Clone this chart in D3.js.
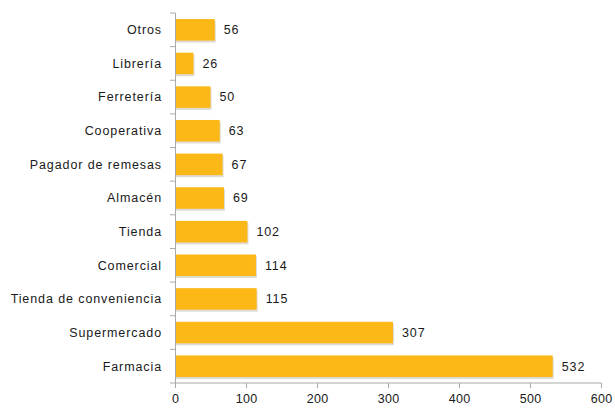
<!DOCTYPE html>
<html>
<head>
<meta charset="utf-8">
<script src="https://cdn.jsdelivr.net/npm/d3@7"></script>
<style>
  html, body { margin: 0; padding: 0; background: #fff; }
  svg { display: block; }
  text { font-family: "Liberation Sans", Arial, sans-serif; fill: #1a1a1a; }
  .lbl { letter-spacing: 0.9px; }
</style>
</head>
<body>
<svg id="chart" width="615" height="409"></svg>
<script>
// Points of sale, count per type
const categories = ["Otros", "Librería", "Ferretería", "Cooperativa", "Pagador de remesas",
  "Almacén", "Tienda", "Comercial", "Tienda de conveniencia", "Supermercado", "Farmacia"];
const values = [56, 26, 50, 63, 67, 69, 102, 114, 115, 307, 532];
const xTicks = [0, 100, 200, 300, 400, 500, 600];

const svg = d3.select("#chart");
const margin = { top: 13, right: 14, bottom: 26, left: 175 };
const W = 615, H = 409;
const innerW = W - margin.left - margin.right;
const innerH = H - margin.top - margin.bottom;

const g = svg.append("g").attr("transform", `translate(${margin.left},${margin.top})`);

const x = d3.scaleLinear().domain([0, 600]).range([0, innerW]);
const y = d3.scaleBand().domain(categories).range([0, innerH]).paddingInner(0.36).paddingOuter(0.18);

const data = categories.map((c, i) => ({ c, v: values[i] }));

// soft drop shadow under each bar
g.selectAll("rect.shadow").data(data).join("rect")
  .attr("class", "shadow")
  .attr("x", 1)
  .attr("y", d => y(d.c) + 2)
  .attr("width", d => x(d.v))
  .attr("height", y.bandwidth())
  .attr("fill", "#c9c3b5")
  .attr("opacity", 0.6);

g.selectAll("rect.bar").data(data).join("rect")
  .attr("class", "bar")
  .attr("x", 0)
  .attr("y", d => y(d.c))
  .attr("width", d => x(d.v))
  .attr("height", y.bandwidth())
  .attr("fill", "#FBB817");

// value labels
g.selectAll("text.val").data(data).join("text")
  .attr("class", "val lbl")
  .attr("x", d => x(d.v) + 9)
  .attr("y", d => y(d.c) + y.bandwidth() / 2)
  .attr("dy", "0.35em")
  .attr("font-size", 12.5)
  .text(d => d.v);

// x axis
const xAxis = g.append("g").attr("transform", `translate(0,${innerH})`)
  .call(d3.axisBottom(x).tickValues(xTicks).tickSize(5).tickPadding(6));
xAxis.selectAll("text").attr("font-size", 12.5).attr("fill", "#1a1a1a").style("letter-spacing", "0.3px");
xAxis.selectAll("line").attr("stroke", "#aaa");
xAxis.select(".domain").attr("stroke", "#aaa").attr("d", `M0.5,0H${innerW + 0.5}`);

// y axis: category labels, ticks at band boundaries
const yAxis = g.append("g");
yAxis.append("line").attr("x1", 0.5).attr("x2", 0.5).attr("y1", 0).attr("y2", innerH).attr("stroke", "#aaa");
const step = y.step();
const bounds = d3.range(categories.length + 1).map(i => y(categories[0]) - y.paddingInner() * step / 2 + i * step);
yAxis.selectAll("line.tk").data(bounds).join("line")
  .attr("class", "tk")
  .attr("x1", -5).attr("x2", 0.5)
  .attr("y1", d => d).attr("y2", d => d)
  .attr("stroke", "#aaa");
yAxis.selectAll("text.cat").data(categories).join("text")
  .attr("class", "cat lbl")
  .attr("x", -13)
  .attr("y", d => y(d) + y.bandwidth() / 2)
  .attr("dy", "0.35em")
  .attr("text-anchor", "end")
  .attr("font-size", 12.5)
  .text(d => d);
</script>
</body>
</html>
